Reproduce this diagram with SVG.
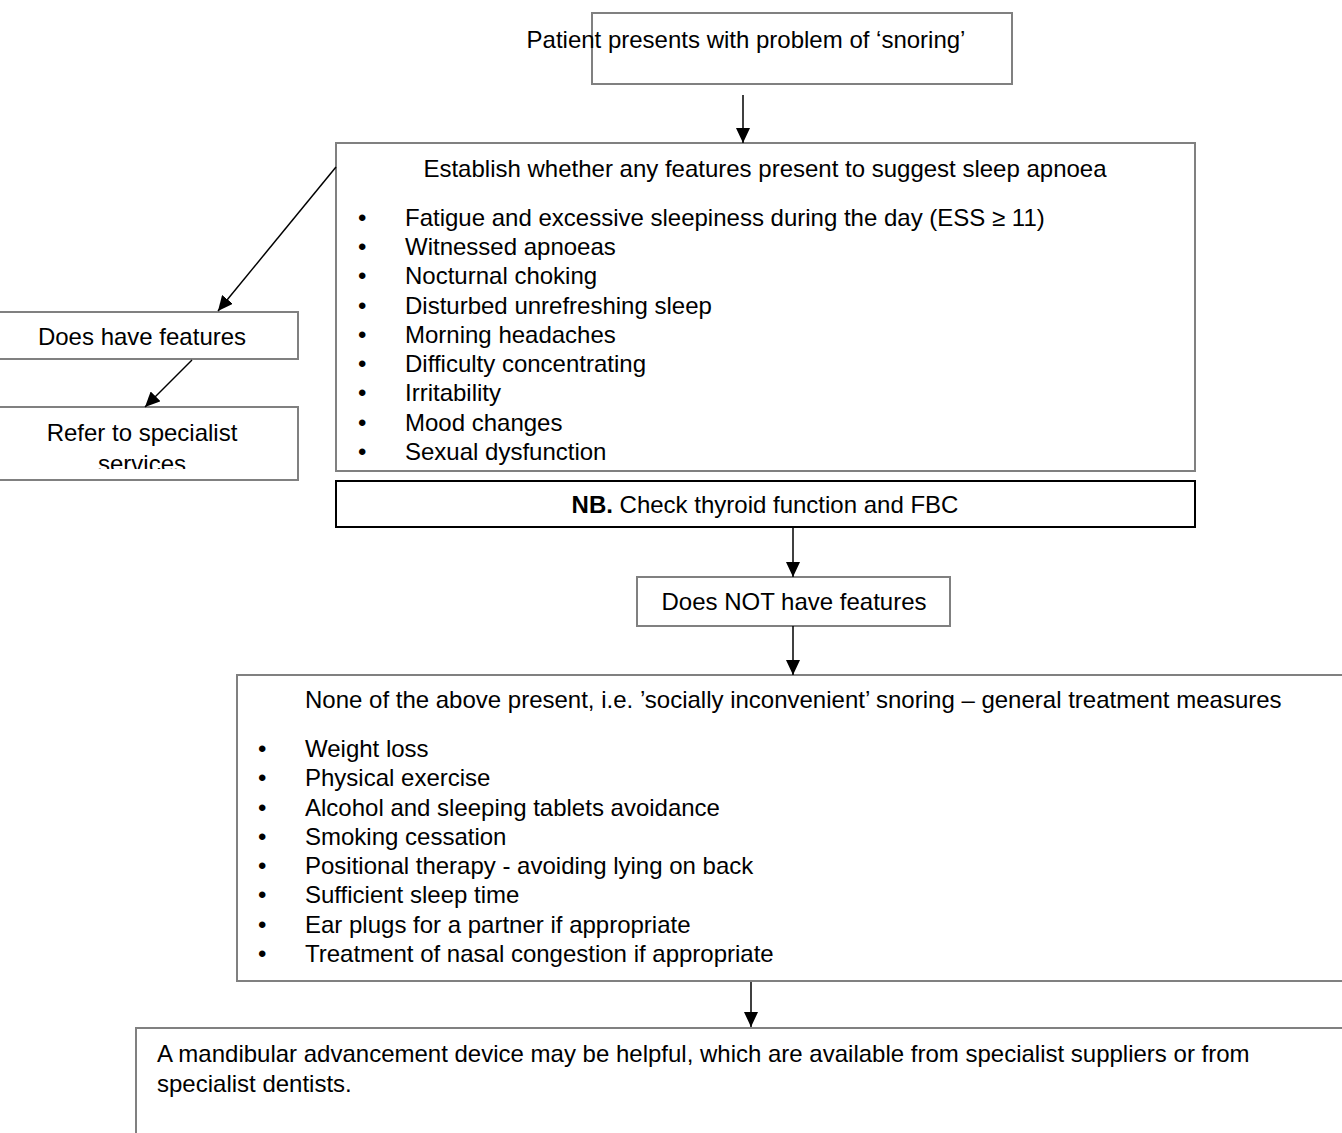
<svg xmlns="http://www.w3.org/2000/svg" width="1342" height="1133" viewBox="0 0 1342 1133">
<defs>
<style>
.box{fill:#fff;stroke:#808080;stroke-width:2}
.boxb{fill:#fff;stroke:#000;stroke-width:2}
text{font-family:"Liberation Sans",Arial,sans-serif;font-size:24px;fill:#000}
.c{text-anchor:middle}
.ln{stroke:#000;stroke-width:1.5;fill:none}
</style>
<marker id="ah" viewBox="0 0 15 14" refX="15" refY="7" markerWidth="15" markerHeight="14" markerUnits="userSpaceOnUse" orient="auto">
<path d="M0,0 L15,7 L0,14 z" fill="#000"/>
</marker>
<clipPath id="clipRefer"><rect x="0" y="407" width="298" height="62"/></clipPath>
</defs>

<g id="n1">
<rect class="box" x="592" y="13" width="420" height="71"/>
<text class="c" x="746" y="48">Patient presents with problem of ‘snoring’</text>
</g>

<g id="n2">
<rect class="box" x="336" y="143" width="859" height="328"/>
<text class="c" x="765" y="177">Establish whether any features present to suggest sleep apnoea</text>
<g>
<text x="358" y="226">•</text><text x="405" y="226">Fatigue and excessive sleepiness during the day (ESS ≥ 11)</text>
<text x="358" y="255">•</text><text x="405" y="255">Witnessed apnoeas</text>
<text x="358" y="284">•</text><text x="405" y="284">Nocturnal choking</text>
<text x="358" y="314">•</text><text x="405" y="314">Disturbed unrefreshing sleep</text>
<text x="358" y="343">•</text><text x="405" y="343">Morning headaches</text>
<text x="358" y="372">•</text><text x="405" y="372">Difficulty concentrating</text>
<text x="358" y="401">•</text><text x="405" y="401">Irritability</text>
<text x="358" y="431">•</text><text x="405" y="431">Mood changes</text>
<text x="358" y="460">•</text><text x="405" y="460">Sexual dysfunction</text>
</g>
</g>

<g id="n3">
<rect class="boxb" x="336" y="481" width="859" height="46"/>
<text class="c" x="765" y="513"><tspan font-weight="bold">NB.</tspan> Check thyroid function and FBC</text>
</g>

<g id="n4">
<rect class="box" x="637" y="577" width="313" height="49"/>
<text class="c" x="794" y="610">Does NOT have features</text>
</g>

<g id="n5">
<rect class="box" x="237" y="675" width="1110" height="306"/>
<text x="305" y="708">None of the above present, i.e. ’socially inconvenient’ snoring – general treatment measures</text>
<g>
<text x="258" y="757">•</text><text x="305" y="757">Weight loss</text>
<text x="258" y="786">•</text><text x="305" y="786">Physical exercise</text>
<text x="258" y="816">•</text><text x="305" y="816">Alcohol and sleeping tablets avoidance</text>
<text x="258" y="845">•</text><text x="305" y="845">Smoking cessation</text>
<text x="258" y="874">•</text><text x="305" y="874">Positional therapy - avoiding lying on back</text>
<text x="258" y="903">•</text><text x="305" y="903">Sufficient sleep time</text>
<text x="258" y="933">•</text><text x="305" y="933">Ear plugs for a partner if appropriate</text>
<text x="258" y="962">•</text><text x="305" y="962">Treatment of nasal congestion if appropriate</text>
</g>
</g>

<g id="n6">
<rect class="box" x="136" y="1028" width="1220" height="120"/>
<text x="157" y="1062">A mandibular advancement device may be helpful, which are available from specialist suppliers or from</text>
<text x="157" y="1092">specialist dentists.</text>
</g>

<g id="n7">
<rect class="box" x="-5" y="312" width="303" height="47"/>
<text class="c" x="142" y="345">Does have features</text>
</g>

<g id="n8">
<rect class="box" x="-5" y="407" width="303" height="73"/>
<g clip-path="url(#clipRefer)">
<text class="c" x="142" y="441">Refer to specialist</text>
<text class="c" x="142" y="472">services</text>
</g>
</g>

<g id="connectors">
<line class="ln" x1="743" y1="95" x2="743" y2="143" marker-end="url(#ah)"/>
<line class="ln" x1="793" y1="527" x2="793" y2="577" marker-end="url(#ah)"/>
<line class="ln" x1="793" y1="626" x2="793" y2="675" marker-end="url(#ah)"/>
<line class="ln" x1="751" y1="982" x2="751" y2="1027" marker-end="url(#ah)"/>
<line class="ln" x1="336" y1="167" x2="218" y2="311" marker-end="url(#ah)"/>
<line class="ln" x1="192" y1="360" x2="145" y2="407" marker-end="url(#ah)"/>
</g>
</svg>
